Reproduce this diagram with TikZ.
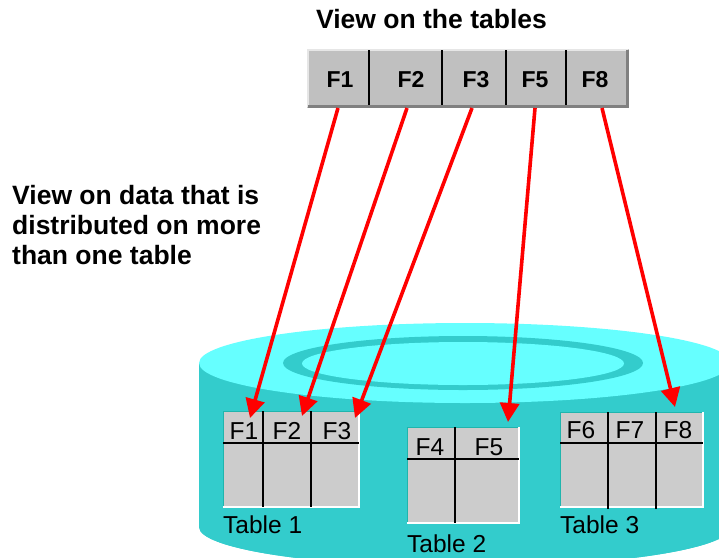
\documentclass[tikz,border=0pt]{standalone}
\usepackage{fontspec}
\setmainfont{Liberation Sans}
\usetikzlibrary{arrows.meta}
\definecolor{cylside}{HTML}{33CCCC}
\definecolor{cyltop}{HTML}{66FFFF}
\definecolor{boxgray}{HTML}{C0C0C0}
\definecolor{tabgray}{HTML}{CCCCCC}
\definecolor{tabedge}{HTML}{1FB5AD}
\definecolor{bevdark}{HTML}{808080}
\definecolor{bevlight}{HTML}{E6E6E6}
\tikzset{
  titletext/.style={inner sep=0pt, font=\fontsize{26.5}{30}\selectfont\bfseries},
  sidetext/.style={inner sep=0pt, anchor=north west, align=left, font=\fontsize{26.5}{30}\selectfont\bfseries},
  viewfield/.style={inner sep=0pt, anchor=base, font=\fontsize{23}{27}\selectfont\bfseries},
  tabfield/.style={inner sep=0pt, anchor=base, font=\fontsize{24.5}{28}\selectfont},
  tablabel/.style={inner sep=0pt, anchor=base west, font=\fontsize{24.5}{28}\selectfont},
  tabbox/.style={fill=tabgray, draw=none},
  divider/.style={draw=black, line width=1.2pt},
  maparrow/.style={draw=red, line width=3.6pt, -{Triangle[length=19pt,width=19pt]}, shorten <=0pt},
}
\begin{document}
\begin{tikzpicture}[x=1pt,y=-1pt]
\useasboundingbox (0,0) rectangle (719,557);
\begin{scope}
\clip (0,0) rectangle (719,557);
% cylinder
\fill[cylside] (199,363) -- (199,527) arc[start angle=180, end angle=360, x radius=266, y radius=-40] -- (731,363) -- cycle;
\fill[cylside] (465,527) ellipse[x radius=266, y radius=40];
\fill[cyltop] (465,363) ellipse[x radius=266, y radius=40];
\fill[cylside] (463,363) ellipse[x radius=180, y radius=27];
\fill[cyltop] (463,363.5) ellipse[x radius=161, y radius=21.5];
\end{scope}

% title
\node[titletext, anchor=base] (title) at (431.5,28) {View on the tables};
% side text
\node[sidetext] (side) at (12,185) {View on data that is\\distributed on more\\than one table};

% top view box
\fill[boxgray] (307,49) rectangle (629,108);
\draw[bevlight, line width=2pt] (308,107) -- (308,50) -- (628,50);
\draw[bevdark, line width=3pt] (308,106.5) -- (627.5,106.5) -- (627.5,50);
\foreach \x in {369,442,506,566} \draw[black, line width=1.1pt] (\x,50) -- (\x,105);
\node[viewfield] (v1) at (340,87) {F1};
\node[viewfield] (v2) at (411,87) {F2};
\node[viewfield] (v3) at (476,87) {F3};
\node[viewfield] (v5) at (535,87) {F5};
\node[viewfield] (v8) at (595,87) {F8};
\coordinate (s1) at (338,108);
\coordinate (s2) at (407,108);
\coordinate (s3) at (472,108);
\coordinate (s5) at (535,108);
\coordinate (s8) at (602,108);

% Table 1
\fill[tabbox] (223,411) rectangle (359,507);
\draw[tabedge, line width=1pt] (223,507) -- (223,411) -- (359,411);
\draw[white, line width=1.2pt] (223,507) -- (359,507) -- (359,411);
\draw[divider] (223,443) -- (359,443);
\draw[divider] (263,411) -- (263,507);
\draw[divider] (311,411) -- (311,507);
\node[tabfield] (t1a) at (244,439.5) {F1};
\node[tabfield] (t1b) at (287,439.5) {F2};
\node[tabfield] (t1c) at (337,439.5) {F3};
\node[tablabel] (lab1) at (223,533) {Table 1};

% Table 2
\fill[tabbox] (407,427) rectangle (519,523);
\draw[tabedge, line width=1pt] (407,523) -- (407,427) -- (519,427);
\draw[white, line width=1.2pt] (407,523) -- (519,523) -- (519,427);
\draw[divider] (407,459) -- (519,459);
\draw[divider] (455,427) -- (455,523);
\node[tabfield] (t2a) at (430,455) {F4};
\node[tabfield] (t2b) at (489,455) {F5};
\node[tablabel] (lab2) at (407,552) {Table 2};

% Table 3
\fill[tabbox] (560,412) rectangle (703,507);
\draw[tabedge, line width=1pt] (560,507) -- (560,412) -- (703,412);
\draw[white, line width=1.2pt] (560,507) -- (703,507) -- (703,412);
\draw[divider] (560,443) -- (703,443);
\draw[divider] (608,412) -- (608,509);
\draw[divider] (656,412) -- (656,509);
\node[tabfield] (t3a) at (581,438.5) {F6};
\node[tabfield] (t3b) at (630,438.5) {F7};
\node[tabfield] (t3c) at (678,438.5) {F8};
\node[tablabel] (lab3) at (560,533) {Table 3};

% arrow targets
\coordinate (e1) at (250,418);
\coordinate (e2) at (302,416);
\coordinate (e3) at (355,418);
\coordinate (e5) at (508,422);
\coordinate (e8) at (675,407);

\draw[maparrow] (s1) -- (e1);
\draw[maparrow] (s2) -- (e2);
\draw[maparrow] (s3) -- (e3);
\draw[maparrow] (s5) -- (e5);
\draw[maparrow] (s8) -- (e8);
\end{tikzpicture}
\end{document}
